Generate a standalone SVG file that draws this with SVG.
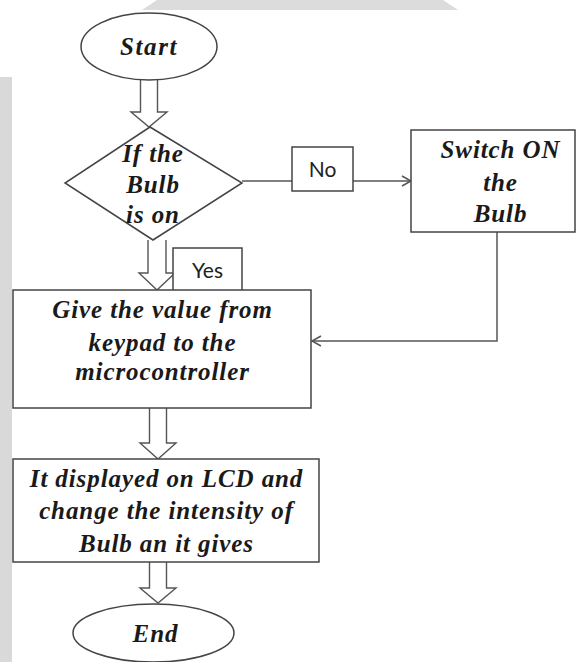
<svg xmlns="http://www.w3.org/2000/svg" width="576" height="662" viewBox="0 0 576 662">
<defs>
<style>
.shape{fill:#fff;stroke:#444;stroke-width:1.5}
.blk{fill:#fff;stroke:#555;stroke-width:1.4;stroke-linejoin:miter}
.ln{fill:none;stroke:#555;stroke-width:1.5}
.t{font-family:"Liberation Serif","Times New Roman",serif;font-weight:bold;font-style:italic;font-size:25px;letter-spacing:0.9px;fill:#1a1a1a;text-anchor:middle}
.lbl{font-family:Lato,"Open Sans",sans-serif;font-size:21px;fill:#222;text-anchor:middle}
</style>
<marker id="open" markerWidth="12" markerHeight="12" refX="10" refY="6" orient="auto" markerUnits="userSpaceOnUse">
<path d="M1,1 L10,6 L1,11" fill="none" stroke="#555" stroke-width="1.5"/>
</marker>
</defs>
<rect width="576" height="662" fill="#fff"/>
<polygon points="157,0 443,0 458,10 142,10" fill="#dcdcdc"/>
<rect x="0" y="77" width="12" height="585" fill="#d9d9d9"/>

<g id="connectors">
<path class="blk" d="M140.5,80 V112 H131 L149,127 L167,112 H157.5 V80"/>
<path class="blk" d="M148,240 V273 H139 L157,290 L175,273 H166 V240"/>
<path class="blk" d="M149.5,408 V443 H140 L158,459 L176,443 H166.5 V408"/>
<path class="blk" d="M149.5,562 V588 H140 L158,603 L176,588 H166.5 V562"/>
<line class="ln" x1="242" y1="181" x2="292" y2="181"/>
<line class="ln" x1="352" y1="181" x2="411" y2="181" marker-end="url(#open)"/>
<polyline class="ln" points="497,232 497,341 312,341" marker-end="url(#open)"/>
</g>

<g id="start">
<ellipse class="shape" cx="149" cy="46.5" rx="68" ry="33.5"/>
<text class="t" x="149" y="55" style="letter-spacing:1.6px">Start</text>
</g>

<g id="decision">
<polygon class="shape" points="150,127 242,183 153,240 65,183"/>
<text class="t" x="153" y="162">If the</text>
<text class="t" x="153" y="193">Bulb</text>
<text class="t" x="153" y="223">is on</text>
</g>

<g id="label-no">
<rect class="shape" x="292" y="147" width="61" height="44"/>
<text class="lbl" x="322.5" y="177">No</text>
</g>

<g id="switch">
<rect class="shape" x="411" y="130" width="164" height="102"/>
<text class="t" x="500.5" y="158">Switch ON</text>
<text class="t" x="500.5" y="191">the</text>
<text class="t" x="500.5" y="222">Bulb</text>
</g>

<g id="label-yes">
<rect class="shape" x="173" y="248" width="69" height="44"/>
<text class="lbl" x="207.5" y="278">Yes</text>
</g>

<g id="give">
<rect class="shape" x="13" y="290" width="298" height="118"/>
<text class="t" x="162.5" y="318">Give the value from</text>
<text class="t" x="162.5" y="351">keypad to the</text>
<text class="t" x="162.5" y="380">microcontroller</text>
</g>

<g id="display">
<rect class="shape" x="13" y="459" width="306" height="103"/>
<text class="t" x="166.5" y="487">It displayed on LCD and</text>
<text class="t" x="166.5" y="519">change the intensity of</text>
<text class="t" x="166.5" y="552">Bulb an it gives</text>
</g>

<g id="end">
<ellipse class="shape" cx="153.5" cy="633" rx="80.5" ry="29"/>
<text class="t" x="155.5" y="642">End</text>
</g>
</svg>
